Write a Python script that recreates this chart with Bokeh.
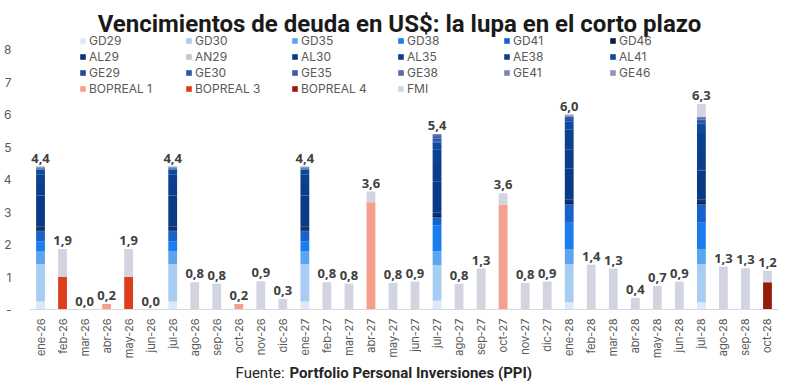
import math
from bokeh.plotting import figure
from bokeh.models import (ColumnDataSource, FactorRange, Range1d, FixedTicker,
                          Legend, LegendItem, Label, Span)
from bokeh.core.properties import value
from bokeh.embed import file_html
from bokeh.resources import INLINE

months = ["ene-26", "feb-26", "mar-26", "abr-26", "may-26", "jun-26",
          "jul-26", "ago-26", "sep-26", "oct-26", "nov-26", "dic-26",
          "ene-27", "feb-27", "mar-27", "abr-27", "may-27", "jun-27",
          "jul-27", "ago-27", "sep-27", "oct-27", "nov-27", "dic-27",
          "ene-28", "feb-28", "mar-28", "abr-28", "may-28", "jun-28",
          "jul-28", "ago-28", "sep-28", "oct-28"]

# Bond payments (USD bn) - only in January / July
bond_months = ["ene-26", "jul-26", "ene-27", "jul-27", "ene-28", "jul-28"]
GD29 = [0.25, 0.25, 0.25, 0.27, 0.22, 0.22]
GD30 = [1.15, 1.15, 1.15, 1.10, 1.17, 1.17]
GD35 = [0.40, 0.40, 0.40, 0.42, 0.46, 0.46]
GD38 = [0.30, 0.30, 0.30, 0.80, 0.82, 0.82]
GD41 = [0.30, 0.30, 0.30, 0.25, 0.56, 0.56]
GD46 = [0.04, 0.04, 0.04, 0.04, 0.05, 0.05]
AL29 = [0.12, 0.12, 0.12, 0.10, 0.10, 0.10]
AN29 = [0.00, 0.00, 0.00, 0.00, 0.00, 0.00]
AL30 = [0.95, 0.95, 0.95, 0.95, 0.95, 0.90]
AL35 = [0.35, 0.35, 0.35, 0.55, 0.60, 0.60]
AE38 = [0.30, 0.30, 0.30, 0.45, 0.60, 0.55]
AL41 = [0.13, 0.13, 0.13, 0.20, 0.25, 0.25]
GE29 = [0.02, 0.02, 0.02, 0.05, 0.05, 0.05]
GE30 = [0.03, 0.03, 0.03, 0.08, 0.06, 0.07]
GE35 = [0.02, 0.02, 0.02, 0.05, 0.04, 0.05]
GE38 = [0.02, 0.02, 0.02, 0.06, 0.03, 0.04]
GE41 = [0.01, 0.01, 0.01, 0.03, 0.02, 0.03]
GE46 = [0.01, 0.01, 0.01, 0.00, 0.02, 0.02]

# Monthly series (USD bn)
BOPREAL_1 = [0, 0, 0, 0.17, 0, 0, 0, 0, 0, 0.17, 0, 0,
             0, 0, 0, 3.30, 0, 0, 0, 0, 0, 3.22, 0, 0,
             0, 0, 0, 0, 0, 0, 0, 0, 0, 0]
BOPREAL_3 = [0, 1.00, 0, 0, 1.00, 0, 0, 0, 0, 0, 0, 0,
             0, 0, 0, 0, 0, 0, 0, 0, 0, 0, 0, 0,
             0, 0, 0, 0, 0, 0, 0, 0, 0, 0]
BOPREAL_4 = [0, 0, 0, 0, 0, 0, 0, 0, 0, 0, 0, 0,
             0, 0, 0, 0, 0, 0, 0, 0, 0, 0, 0, 0,
             0, 0, 0, 0, 0, 0, 0, 0, 0, 0.84]
FMI = [0, 0.86, 0, 0, 0.86, 0, 0, 0.84, 0.80, 0, 0.87, 0.33,
       0, 0.84, 0.80, 0.33, 0.82, 0.86, 0, 0.79, 1.26, 0.36, 0.82, 0.86,
       0, 1.38, 1.26, 0.36, 0.73, 0.86, 0.38, 1.32, 1.27, 0.35]

y_ticks = [0, 1, 2, 3, 4, 5, 6, 7, 8]

bond_series = [("GD29", GD29), ("GD30", GD30), ("GD35", GD35), ("GD38", GD38),
               ("GD41", GD41), ("GD46", GD46), ("AL29", AL29), ("AN29", AN29),
               ("AL30", AL30), ("AL35", AL35), ("AE38", AE38), ("AL41", AL41),
               ("GE29", GE29), ("GE30", GE30), ("GE35", GE35), ("GE38", GE38),
               ("GE41", GE41), ("GE46", GE46)]
other_series = [("BOPREAL 1", BOPREAL_1), ("BOPREAL 3", BOPREAL_3),
                ("BOPREAL 4", BOPREAL_4), ("FMI", FMI)]

colors = ["#dce9f8", "#a8cdf3", "#5aa5ee", "#1a7df0", "#1762cc", "#0a1a4a",
          "#0b3378", "#c3c7d2", "#0a3a85", "#0b3d8c", "#0b428f", "#0d4a9e",
          "#1c4c9e", "#2557aa", "#3a5ca8", "#5a6aa8", "#7a87ba", "#8f95c2",
          "#f4a08a", "#dc3d1b", "#951b0c", "#d2d5e1"]

data = {"month": months}
names = []
keys = []
for i, (name, vals) in enumerate(bond_series):
    col = [0.0] * len(months)
    for m, v in zip(bond_months, vals):
        col[months.index(m)] = v
    k = "s%d" % i
    data[k] = col
    keys.append(k)
    names.append(name)
for j, (name, vals) in enumerate(other_series):
    k = "s%d" % (len(bond_series) + j)
    data[k] = list(vals)
    keys.append(k)
    names.append(name)

totals = [sum(data[k][i] for k in keys) for i in range(len(months))]
labels = [("%.1f" % (t + 1e-9)).replace(".", ",") for t in totals]

src = ColumnDataSource(data)
lab_src = ColumnDataSource(dict(month=months, total=totals, label=labels,
                                base=[0] * len(months)))

H = 381
p = figure(x_range=FactorRange(*months), y_range=Range1d(-2.215, 9.508),
           width=784, height=H, output_backend="svg", toolbar_location=None,
           x_axis_location=None,
           min_border_left=25, min_border_right=6, min_border_top=0,
           min_border_bottom=0)

renderers = p.vbar_stack(keys, x="month", width=0.4, fill_color=colors,
                         line_color=None, source=src)

p.add_layout(Span(location=0, dimension="width", line_color="#d9d9d9",
                  line_width=1))

# bar totals
p.text(x="month", y="total", text="label", source=lab_src,
       text_align="center", text_baseline="bottom", y_offset=-4,
       text_font=value("Open Sans"), text_font_style="bold",
       text_font_size="13px", text_color="#404040")

# category labels (vertical)
p.text(x="month", y="base", text="month", source=lab_src, angle=math.pi / 2,
       text_align="right", text_baseline="middle", y_offset=9,
       text_font=value("Inter"), text_font_size="11px", text_color="#595959")

items = [LegendItem(label=n, renderers=[r]) for n, r in zip(names, renderers)]
legend = Legend(items=items, orientation="horizontal", ncols=6,
                location=(50, 285), glyph_width=7, glyph_height=7,
                label_standoff=3, label_width=96, label_height=16, spacing=0,
                padding=0, margin=0, border_line_color=None,
                background_fill_alpha=0, label_text_font="Inter",
                label_text_font_size="12px", label_text_color="#595959")
p.add_layout(legend)

p.yaxis.ticker = FixedTicker(ticks=y_ticks)
p.yaxis.major_label_overrides = {0: "-"}
p.yaxis.axis_line_color = None
p.yaxis.major_tick_line_color = None
p.yaxis.minor_tick_line_color = None
p.yaxis.major_label_text_font = "Inter"
p.yaxis.major_label_text_font_size = "12px"
p.yaxis.major_label_text_color = "#595959"
p.yaxis.major_label_standoff = 12

p.xgrid.visible = False
p.ygrid.visible = False
p.outline_line_color = None

p.add_layout(Label(x=370, y=H - 23, x_units="screen", y_units="screen",
                   text="Vencimientos de deuda en US$: la lupa en el corto plazo",
                   text_align="center", text_baseline="alphabetic",
                   text_font="Roboto", text_font_style="bold",
                   text_font_size="24px", text_color="#1a1a1a"))
p.add_layout(Label(x=206, y=9, x_units="screen", y_units="screen",
                   text="Fuente:", text_align="left", text_baseline="alphabetic",
                   text_font="Roboto", text_font_size="15px",
                   text_color="#262626"))
p.add_layout(Label(x=260, y=9, x_units="screen", y_units="screen",
                   text="Portfolio Personal Inversiones (PPI)",
                   text_align="left", text_baseline="alphabetic",
                   text_font="Roboto", text_font_style="bold",
                   text_font_size="15px", text_color="#262626"))

open("out.html", "w").write(file_html(p, INLINE))
